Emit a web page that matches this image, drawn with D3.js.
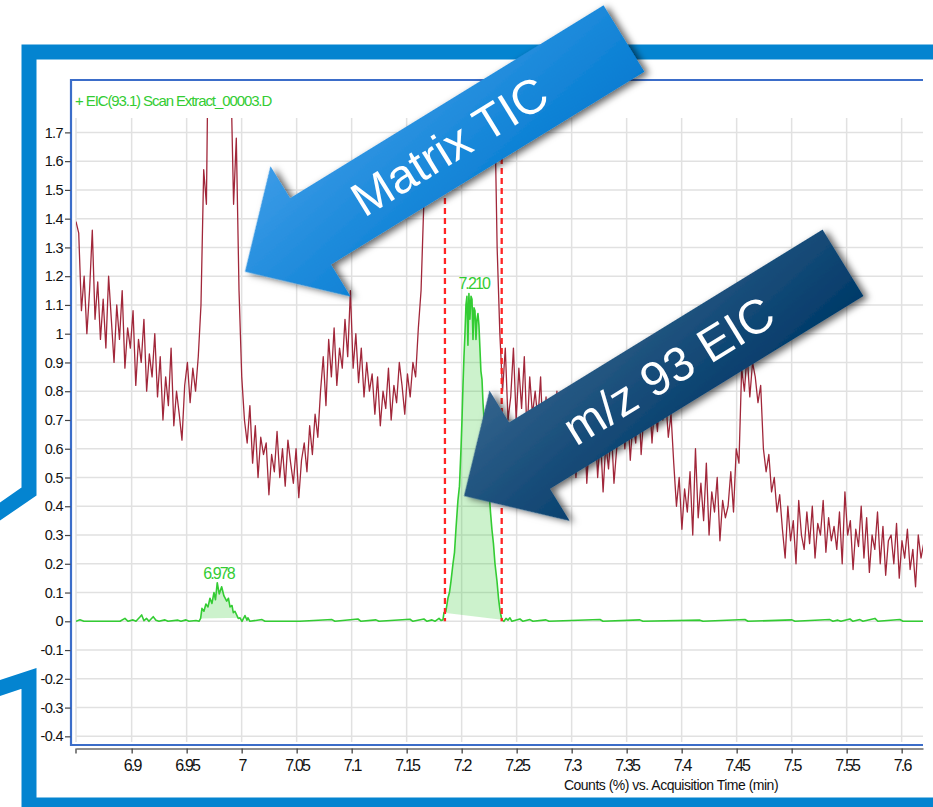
<!DOCTYPE html>
<html><head><meta charset="utf-8">
<script src="https://cdn.jsdelivr.net/npm/d3@7"></script>
<style>
html,body{margin:0;padding:0;background:#fff;}
svg{display:block;font-family:"Liberation Sans",Arial,Helvetica,sans-serif;}
</style></head><body>
<svg id="chart" width="933" height="807"></svg>
<script>
// ---------- DATA ----------
const xDomain = [6.8494, 7.6194];
const yDomain = [-0.4197, 1.75];

const xTicks = [6.9,6.95,7,7.05,7.1,7.15,7.2,7.25,7.3,7.35,7.4,7.45,7.5,7.55,7.6];
const xTickLabels = ["6.9","6.95","7","7.05","7.1","7.15","7.2","7.25","7.3","7.35","7.4","7.45","7.5","7.55","7.6"];
const yTicks = [-0.4,-0.3,-0.2,-0.1,0,0.1,0.2,0.3,0.4,0.5,0.6,0.7,0.8,0.9,1,1.1,1.2,1.3,1.4,1.5,1.6,1.7];
const yTickLabels = ["-0.4","-0.3","-0.2","-0.1","0","0.1","0.2","0.3","0.4","0.5","0.6","0.7","0.8","0.9","1","1.1","1.2","1.3","1.4","1.5","1.6","1.7"];

// Matrix TIC trace (scan every ticStep minutes)
const ticStart = 6.8494, ticStep = 0.00247;
const ticValues = [
1.39,1.35,1.08,1.2,1.0,1.15,1.36,1.05,1.18,0.98,
1.12,0.95,1.2,1.05,0.9,1.1,0.98,1.15,0.88,1.02,
0.95,1.08,0.82,0.98,0.9,1.05,0.8,0.93,0.85,1.0,
0.78,0.92,0.7,0.85,0.75,0.95,0.68,0.8,0.72,0.63,
0.82,0.9,0.76,0.88,0.8,0.92,1.1,1.57,1.45,2.3,
2.8,3.2,3.4,3.3,3.0,2.6,2.2,1.9,1.45,1.68,
1.15,0.85,0.7,0.62,0.75,0.55,0.68,0.5,0.64,0.58,
0.62,0.44,0.58,0.52,0.66,0.5,0.6,0.47,0.63,0.55,
0.48,0.6,0.43,0.56,0.62,0.52,0.68,0.58,0.72,0.64,
0.8,0.92,0.75,0.98,0.85,1.02,0.82,0.95,0.88,1.05,
0.92,1.15,0.88,1.0,0.83,0.95,0.78,0.9,0.8,0.86,
0.72,0.85,0.68,0.8,0.74,0.88,0.7,0.82,0.76,0.9,
0.82,0.72,0.86,0.78,0.9,0.85,1.02,1.15,1.45,2.0,
2.6,3.0,3.3,3.5,3.6,3.6,3.5,3.4,3.3,3.2,
3.1,3.0,2.9,2.8,2.7,2.6,2.5,2.4,2.3,2.2,
2.1,2.0,1.95,1.9,1.85,1.3,1.0,0.8,0.95,0.7,
0.78,0.95,0.7,0.88,0.74,0.92,0.65,0.85,0.72,0.8,
0.7,0.85,0.6,0.78,0.55,0.72,0.62,0.8,0.5,0.68,
0.62,0.75,0.55,0.7,0.5,0.66,0.58,0.72,0.48,0.64,
0.56,0.7,0.5,0.65,0.45,0.62,0.53,0.68,0.48,0.6,
0.66,0.78,0.6,0.74,0.56,0.7,0.62,0.8,0.58,0.72,
0.68,0.8,0.62,0.76,0.66,0.82,0.7,0.78,0.64,0.72,
0.55,0.4,0.5,0.32,0.46,0.38,0.52,0.3,0.6,0.36,
0.48,0.35,0.55,0.3,0.45,0.38,0.5,0.28,0.42,0.36,
0.4,0.52,0.38,0.6,0.55,0.88,0.8,0.93,0.78,0.9,
0.85,0.76,0.82,0.6,0.52,0.58,0.45,0.5,0.38,0.44,
0.32,0.22,0.4,0.28,0.35,0.2,0.42,0.3,0.25,0.38,
0.27,0.4,0.22,0.34,0.3,0.42,0.24,0.36,0.28,0.33,
0.25,0.38,0.2,0.45,0.3,0.35,0.18,0.32,0.26,0.4,
0.22,0.36,0.17,0.3,0.25,0.38,0.2,0.33,0.16,0.28,
0.3,0.2,0.34,0.15,0.28,0.22,0.32,0.18,0.25,0.12,
0.3,0.22,0.27
];

// EIC m/z 93.1 trace
const eicTimes = [
6.8494,6.853,6.8566,6.8894,6.8939,6.8966,6.9012,6.9039,6.9075,6.9091,6.9112,6.9136,6.9157,6.9196,6.9221,6.9248,6.9303,6.933,6.9421,6.9448,6.9494,6.9521,6.9585,6.9612,
6.9627,6.9639,6.9657,6.9675,6.9694,6.9712,6.973,6.9748,6.9762,6.9778,6.9796,6.9818,6.9839,6.9864,6.988,6.9894,6.9912,6.9924,6.9939,6.9969,6.9985,
7.0003,7.003,7.0048,7.0057,7.0075,7.0185,7.0212,7.053,7.0821,7.0848,7.1057,7.1085,7.1221,7.1248,7.153,7.1557,7.1657,7.1685,7.173,7.1757,7.1794,7.1812,
7.183,7.1839,7.1857,7.1875,7.1889,7.1903,7.1921,7.1935,7.1948,7.1966,7.198,7.1994,7.2003,7.2012,7.2021,7.203,7.2039,7.2048,7.2057,7.2066,7.2075,7.2085,7.2094,7.2103,7.2112,7.2121,7.213,7.2139,7.2148,7.2157,7.2166,7.2175,7.2185,7.2194,7.2207,7.2221,7.2235,7.2248,7.2262,7.2275,7.2289,7.2303,7.2321,7.2335,7.2348,7.2357,7.2366,
7.2385,7.2403,7.2421,7.2439,7.2457,7.253,7.2557,7.2621,7.2648,7.2766,7.2794,7.3257,7.3285,7.362,7.3648,7.4166,7.4194,7.4575,7.4603,7.5003,7.503,7.5348,7.5375,7.542,7.5448,7.553,7.5557,7.5621,7.5648,7.5757,7.5784,7.5984,7.6012,7.6194
];
const eicValues = [
0,0.005,0,0,0.01,0,0.005,0,0.015,0.022,0.002,0.01,0,0.016,0.004,0,0.005,0,0.004,0,0.005,0,0.003,0,
0.01,0.045,0.035,0.06,0.05,0.08,0.062,0.1,0.075,0.134,0.095,0.12,0.088,0.07,0.08,0.05,0.055,0.03,0.035,0.01,0.012,
0,0.02,0.004,0.012,0,0.006,0,0,0.006,0,0.008,0,0.005,0,0.007,0,0.008,0,0.005,0,0.01,0.003,
0.005,0.03,0.035,0.08,0.1,0.14,0.2,0.24,0.32,0.42,0.47,0.6,0.7,0.82,0.92,1.0,1.1,1.13,0.96,1.14,1.05,1.13,1.12,0.98,1.09,1.08,0.98,1.05,1.07,1.03,0.95,0.87,0.84,0.76,0.68,0.6,0.52,0.46,0.38,0.32,0.27,0.2,0.14,0.08,0.04,0.02,0.005,
0,0.01,0.004,0.012,0,0.008,0,0.006,0,0.005,0,0.006,0,0.005,0,0.004,0,0.006,0,0.005,0,0.006,0,0.004,0,0.008,0,0.006,0,0.01,0,0.006,0,0
];

const peakTimes = [6.978, 7.210];
const peakHeights = [0.134, 1.14];
const peakLabels = ["6.978", "7.210"];
const fillRanges = [[6.9627, 6.9985], [7.1839, 7.2366]];
const integrationBounds = [7.1848, 7.2364];

const titleText = "+ EIC(93.1) Scan Extract_00003.D";
const xAxisTitle = "Counts (%) vs. Acquisition Time (min)";

const arrowLabels = ["Matrix TIC", "m/z 93 EIC"];
const arrowTipTimes = [7.003, 7.2021];
const arrowTipValues = [1.2156, 0.4357];
const arrowLight = ["#3f9de8", "#37668f"];
const arrowDark = ["#067dd2", "#013a69"];

// ---------- DRAW ----------
const svg = d3.select("#chart");
const FONT = '"Liberation Sans",Arial,Helvetica,sans-serif';
const x = d3.scaleLinear().domain(xDomain).range([76, 923]);
const y = d3.scaleLinear().domain(yDomain).range([742, 118]);

const defs = svg.append("defs");
defs.append("clipPath").attr("id","plotClip").append("rect")
  .attr("x",76).attr("y",118).attr("width",847).attr("height",624);
const sh = defs.append("filter").attr("id","shadow").attr("x","-20%").attr("y","-30%").attr("width","140%").attr("height","160%");
sh.append("feDropShadow").attr("dx",3).attr("dy",4).attr("stdDeviation",3.5)
  .attr("flood-color","#000").attr("flood-opacity",0.6);
arrowLabels.forEach((l,i)=>{
  const g = defs.append("linearGradient").attr("id","ag"+i)
    .attr("x1",0).attr("y1",0).attr("x2",0.55).attr("y2",1);
  g.append("stop").attr("offset","0%").attr("stop-color",arrowLight[i]);
  g.append("stop").attr("offset","100%").attr("stop-color",arrowDark[i]);
});

// outer callout frame
svg.append("rect").attr("width",933).attr("height",807).attr("fill","#fff");
svg.append("path")
  .attr("d","M945,52 H29 V491.5 L-30,532.2 V697.9 L29,678.4 V805 H945 Z")
  .attr("fill","#fff").attr("stroke","#0484d0").attr("stroke-width",15)
  .attr("stroke-linejoin","miter");

// grid
const grid = svg.append("g");
grid.selectAll(".hg").data(yTicks).enter().append("line")
  .attr("x1",76).attr("x2",923).attr("y1",d=>y(d)).attr("y2",d=>y(d))
  .attr("stroke","#e1e1e1").attr("stroke-width",1.5);
grid.selectAll(".vg").data([xDomain[0]].concat(xTicks)).enter().append("line")
  .attr("x1",d=>x(d)).attr("x2",d=>x(d)).attr("y1",118).attr("y2",742)
  .attr("stroke","#e1e1e1").attr("stroke-width",1.5);

// plot frame
const frame = svg.append("g").attr("stroke","#3b6dc9").attr("stroke-width",2.2).attr("fill","none");
frame.append("path").attr("d","M923,80 H71 V745 H923");

// x axis
const xAxis = d3.axisBottom(x).tickValues(xTicks).tickFormat((d,i)=>xTickLabels[i])
  .tickSize(5).tickPadding(6).tickSizeOuter(0);
const gx = svg.append("g").attr("transform","translate(0,748.5)").call(xAxis);
gx.select(".domain").attr("stroke","#6a6a6a").attr("stroke-width",1.6);
gx.selectAll(".tick line").attr("stroke","#444").attr("stroke-width",1.3);
gx.selectAll(".tick text").attr("font-size",16).attr("letter-spacing",-1.8)
  .attr("fill","#111").attr("font-family",FONT);
gx.append("line").attr("x1",x(xDomain[0])).attr("x2",x(xDomain[0])).attr("y1",0).attr("y2",5)
  .attr("stroke","#444").attr("stroke-width",1.3);

// y axis
const yAxis = d3.axisLeft(y).tickValues(yTicks).tickFormat((d,i)=>yTickLabels[i])
  .tickSize(5.5).tickPadding(2).tickSizeOuter(0);
const gy = svg.append("g").attr("transform","translate(70.5,0)").call(yAxis);
gy.select(".domain").remove();
gy.selectAll(".tick line").attr("stroke","#444").attr("stroke-width",1.2);
gy.selectAll(".tick text").attr("font-size",14.5).attr("letter-spacing",-0.6)
  .attr("fill","#111").attr("font-family",FONT);

// data layer
const plot = svg.append("g").attr("clip-path","url(#plotClip)");
const tic = ticValues.map((v,i)=>({t: ticStart + i*ticStep, v}));
plot.append("path").datum(tic)
  .attr("d", d3.line().x(d=>x(d.t)).y(d=>y(d.v)))
  .attr("fill","none").attr("stroke","#a1273a").attr("stroke-width",1.3)
  .attr("stroke-linejoin","round");

const eic = eicTimes.map((t,i)=>({t, v: eicValues[i]}));
fillRanges.forEach(r=>{
  const pts = eic.filter(d=>d.t>=r[0]-1e-9 && d.t<=r[1]+1e-9);
  plot.append("path").datum(pts)
    .attr("d", d3.line().x(d=>x(d.t)).y(d=>y(d.v))(pts) + "Z")
    .attr("fill","#33cc33").attr("fill-opacity",0.25).attr("stroke","none");
});
plot.append("path").datum(eic)
  .attr("d", d3.line().x(d=>x(d.t)).y(d=>y(d.v)))
  .attr("fill","none").attr("stroke","#33cc33").attr("stroke-width",1.6)
  .attr("stroke-linejoin","round");

// integration bounds
plot.selectAll(".ib").data(integrationBounds).enter().append("line")
  .attr("x1",d=>x(d)).attr("x2",d=>x(d)).attr("y1",118).attr("y2",y(0))
  .attr("stroke","#ff2424").attr("stroke-width",2.3).attr("stroke-dasharray","6,4");

// peak labels
svg.selectAll(".pl").data(peakLabels).enter().append("text")
  .attr("x",(d,i)=>x(peakTimes[i])+1).attr("y",(d,i)=>y(peakHeights[i])-4)
  .attr("text-anchor","middle").attr("font-size",16).attr("letter-spacing",-1.9)
  .attr("fill","#33cc33").attr("font-family",FONT).text(d=>d);

// titles
svg.append("text").attr("x",75).attr("y",106).attr("font-size",15).attr("letter-spacing",-1.1)
  .attr("fill","#33cc33").attr("font-family",FONT).text(titleText);
svg.append("text").attr("x",671).attr("y",790).attr("text-anchor","middle")
  .attr("font-size",14).attr("letter-spacing",-0.5).attr("fill","#111")
  .attr("font-family",FONT).text(xAxisTitle);

// annotation arrows
const ANG = -31.6;
arrowLabels.forEach((lab,i)=>{
  const g = svg.append("g")
    .attr("transform",`translate(${x(arrowTipTimes[i])},${y(arrowTipValues[i])}) rotate(${ANG})`);
  g.append("path")
    .attr("d","M0,0 L77,-76.5 L77,-39 L445,-39 L445,39 L77,39 L77,76.5 Z")
    .attr("fill",`url(#ag${i})`).attr("filter","url(#shadow)");
  g.append("text").attr("x",240).attr("y",0).attr("dy","0.35em")
    .attr("text-anchor","middle").attr("font-size",48).attr("fill","#fff")
    .attr("font-family",FONT).text(lab);
});
</script>
</body></html>
